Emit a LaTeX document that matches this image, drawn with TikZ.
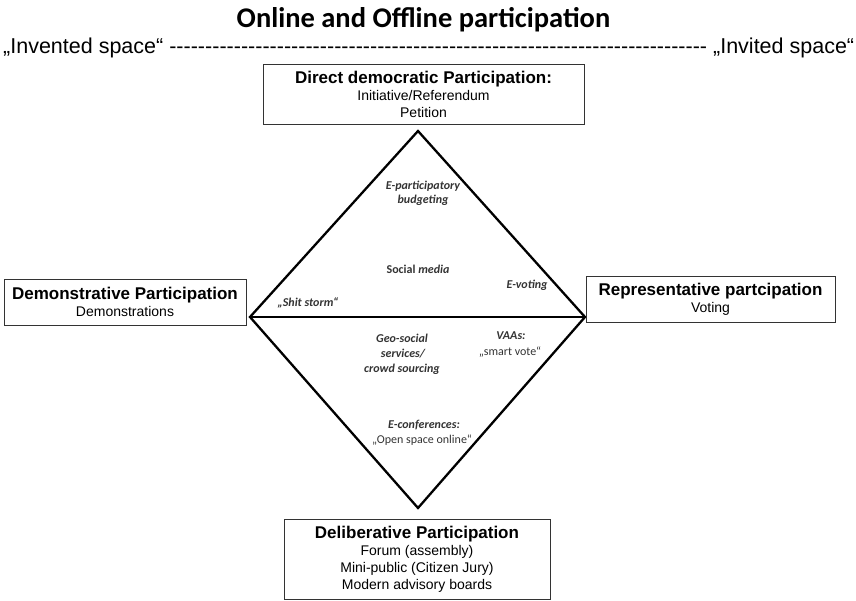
\documentclass[tikz,border=0pt]{standalone}
\usepackage{fontspec}
\setmainfont{Liberation Sans}
\newfontfamily\calfont{Carlito}
\begin{document}
\begin{tikzpicture}[x=1pt,y=-1pt,
  box/.style={draw=black!80, line width=0.9pt, fill=white, align=center, inner sep=0pt,
    font=\fontsize{14}{17}\selectfont},
  dia/.style={line width=2.3pt, line join=miter},
  lab/.style={font=\calfont\fontsize{12}{15}\selectfont\bfseries\itshape, text=black!80, anchor=base, inner sep=0pt},
  plainlab/.style={font=\calfont\fontsize{12}{15}\selectfont, text=black!80, anchor=base, inner sep=0pt}]
\useasboundingbox (0,0) rectangle (856,601);
% title lines
\node[anchor=base, inner sep=0pt, font=\calfont\bfseries\fontsize{28.5}{32}\selectfont] (title) at (423.5,28) {Online and Offline participation};
\node[anchor=base west, inner sep=0pt, font=\fontsize{21.5}{25}\selectfont] (spaces) at (3,54)
  {\hbox to 851pt{„Invented space“\ \xleaders\hbox{-}\hfill\ „Invited space“}};
% diamond
\coordinate (T) at (418,131);
\coordinate (L) at (250,317);
\coordinate (R) at (585,317);
\coordinate (B) at (418,508);
\draw[dia] (T) -- (R) -- (B) -- (L) -- cycle;
\draw[dia] (L) -- (R);
% boxes
\node[box, minimum width=321pt, minimum height=60pt] (direct) at (423.5,94.5)
  {{\bfseries\fontsize{17}{17}\selectfont Direct democratic Participation:}\\ Initiative/Referendum\\ Petition};
\node[box, minimum width=242pt, minimum height=46pt] (demo) at (125,302)
  {{\bfseries\fontsize{17}{17}\selectfont Demonstrative Participation}\\ Demonstrations};
\node[box, minimum width=249pt, minimum height=46pt] (repr) at (710.5,299)
  {{\bfseries\fontsize{17}{17}\selectfont Representative partcipation}\\ Voting};
\node[box, minimum width=266pt, minimum height=80pt] (delib) at (417,559)
  {{\bfseries\fontsize{17}{17}\selectfont Deliberative Participation}\\ Forum (assembly)\\ Mini-public (Citizen Jury)\\ Modern advisory boards};
% inner labels
\node[lab] (epb1) at (423,190) {E-participatory};
\node[lab] (epb2) at (423,204) {budgeting};
\node[lab] (social) at (418,274) {\upshape Social \itshape media};
\node[lab] (evote) at (527,289) {E-voting};
\node[lab] (shit) at (308,307) {„Shit storm“};
\node[lab] (geo1) at (402,342) {Geo-social};
\node[lab] (geo2) at (403,357) {services/};
\node[lab] (geo3) at (402,372) {crowd sourcing};
\node[lab] (vaa1) at (511,339) {VAAs:};
\node[plainlab] (vaa2) at (510,355) {„smart vote“};
\node[lab] (econf1) at (424,428) {E-conferences:};
\node[plainlab] (econf2) at (422,443) {„Open space online“};
\end{tikzpicture}
\end{document}
